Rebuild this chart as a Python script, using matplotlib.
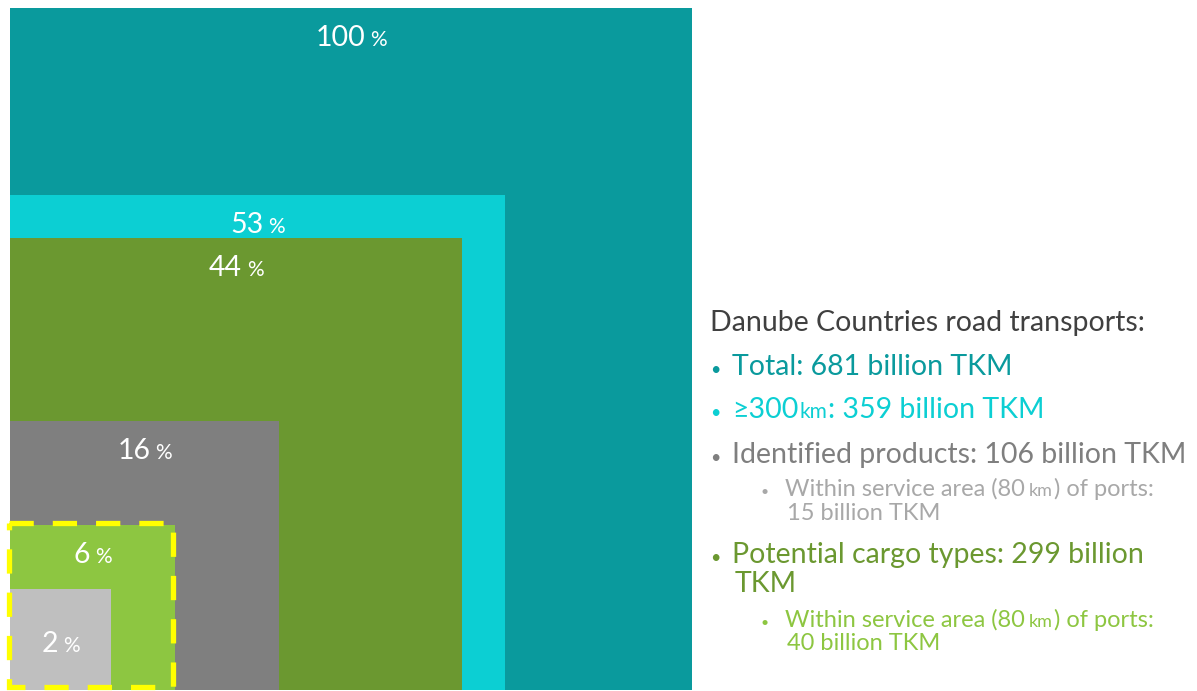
import numpy as np
import matplotlib
matplotlib.use("Agg")
import matplotlib.pyplot as plt
from matplotlib.patches import Rectangle

# road transport volumes, billion TKM (largest first)
segments = ["Total", ">=300km", "Potential cargo types", "Identified products",
            "Potential, within 80 km of ports", "Identified, within 80 km of ports"]
tkm = [681, 359, 299, 106, 40, 15]
box_colors = ["#0A9A9D", "#0CCFD3", "#6B9830", "#7F7F7F", "#8DC641", "#BFBFBF"]

FONT = "Lato"
W, H = 1197, 691
fig = plt.figure(figsize=(W / 100, H / 100), dpi=100)
ax = fig.add_axes([0, 0, 1, 1])
ax.set_xlim(0, W)
ax.set_ylim(H, 0)
ax.axis("off")
renderer = fig.canvas.get_renderer()


def put_runs(x, y, runs, center=False):
    # runs: (text, size, color, gap after in px); drawn side by side on one baseline
    items = []
    cx = 0.0
    for s, size, color, gap in runs:
        t = ax.text(cx, y, s, fontsize=size, color=color, family=FONT,
                    va="baseline", ha="left")
        w = t.get_window_extent(renderer).width
        items.append((t, cx))
        cx += w + gap
    total = cx - runs[-1][3]
    x0 = x - total / 2 if center else x
    for t, off in items:
        t.set_x(x0 + off)


# nested squares anchored at bottom-left, area proportional to volume
x0, y_bottom, full = 10, 690, 682
total = tkm[0]
pct = [round(100 * v / total) for v in tkm]
for i, (v, c) in enumerate(zip(tkm, box_colors)):
    side = np.sqrt(v / total) * full
    ax.add_patch(Rectangle((x0, y_bottom - side), side, side, color=c, lw=0))
    top = y_bottom - side
    base = top + 38 if i < len(tkm) - 1 else top + side / 2 + 13
    put_runs(x0 + side / 2, base,
             [(str(pct[i]), 20.5, "white", 5), ("%", 15, "white", 0)], center=True)

# dashed highlight around the "within service area" square
side6 = np.sqrt(tkm[4] / total) * full
ax.add_patch(Rectangle((x0 - 1, y_bottom - side6 - 2), side6 - 1, side6 - 1,
                       fill=False, ec="#FFFF00", lw=3.8, ls=(0, (4.6, 3.6))))

# explanatory text on the right
dark = "#404040"
c_total, c_long, c_id, c_id_sub = "#0A9A9D", "#0CCFD3", "#7F7F7F", "#A8A8A8"
c_pot, c_pot_sub = "#6B9830", "#8DC641"
main, sub, small = 20.5, 17, 13

put_runs(710, 331, [("Danube Countries road transports:", main, dark, 0)])

put_runs(710, 375, [("•", 13, c_total, 12), ("Total: 681 billion TKM", main, c_total, 0)])
put_runs(710, 418, [("•", 13, c_long, 12), ("≥300", main, c_long, 1),
                    ("km", 15, c_long, 0), (": 359 billion TKM", main, c_long, 0)])
put_runs(710, 463, [("•", 13, c_id, 12),
                    ("Identified products: 106 billion TKM", main, c_id, 0)])
put_runs(761, 496, [("•", 10, c_id_sub, 16), ("Within service area (80", sub, c_id_sub, 4),
                    ("km", small, c_id_sub, 1), (") of ports:", sub, c_id_sub, 0)])
put_runs(787, 520, [("15 billion TKM", sub, c_id_sub, 0)])
put_runs(710, 563, [("•", 13, c_pot, 12),
                    ("Potential cargo types: 299 billion", main, c_pot, 0)])
put_runs(735, 592, [("TKM", main, c_pot, 0)])
put_runs(761, 627, [("•", 10, c_pot_sub, 16), ("Within service area (80", sub, c_pot_sub, 4),
                    ("km", small, c_pot_sub, 1), (") of ports:", sub, c_pot_sub, 0)])
put_runs(787, 650, [("40 billion TKM", sub, c_pot_sub, 0)])

fig.savefig("out.png", dpi=100, facecolor="white")
